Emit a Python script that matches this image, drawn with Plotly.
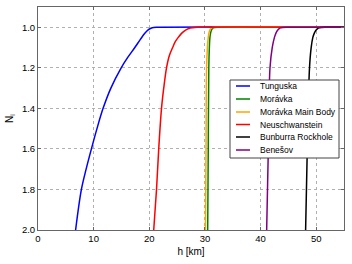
import plotly.graph_objects as go

names = ["Tunguska", "Morávka", "Morávka Main Body", "Neuschwanstein", "Bunburra Rockhole", "Benešov"]
colors = ["#0000ff", "#008000", "#ffa500", "#ff0000", "#000000", "#800080"]

tunguska_h = [6.76, 7.8, 8.65, 9.6, 10.6, 11.7, 13.1, 14.95, 16.1, 17.4, 18.4, 19.2, 19.8, 20.3, 20.8, 21.5, 55]
tunguska_n = [2.0, 1.8, 1.7, 1.6, 1.5, 1.4, 1.3, 1.2, 1.15, 1.1, 1.06, 1.03, 1.013, 1.005, 1.001, 1.0, 1.0]

moravka_h = [30.5, 30.6, 30.7, 30.8, 30.9, 31.05, 31.25, 31.5, 31.8, 32.2, 55]
moravka_n = [2.0, 1.6, 1.2, 1.1, 1.05, 1.025, 1.01, 1.003, 1.001, 1.0, 1.0]

moravka_main_h = [30.1, 30.2, 30.3, 30.45, 30.6, 30.75, 30.95, 31.2, 31.5, 31.8, 55]
moravka_main_n = [2.0, 1.6, 1.2, 1.1, 1.05, 1.025, 1.01, 1.003, 1.001, 1.0, 1.0]

neuschwanstein_h = [20.8, 21.3, 21.7, 22.2, 22.6, 23.1, 23.6, 24.2, 24.7, 25.2, 25.8, 26.4, 27.1, 27.8, 28.6, 55]
neuschwanstein_n = [2.0, 1.8, 1.6, 1.4, 1.3, 1.2, 1.14, 1.1, 1.07, 1.05, 1.03, 1.016, 1.006, 1.002, 1.0, 1.0]

bunburra_h = [48.1, 48.4, 48.8, 49.1, 49.4, 49.65, 49.9, 50.2, 50.5, 51.0, 51.6, 55]
bunburra_n = [2.0, 1.6, 1.2, 1.1, 1.05, 1.03, 1.017, 1.008, 1.003, 1.001, 1.0, 1.0]

benesov_h = [41.1, 41.4, 41.7, 42.1, 42.5, 42.75, 43.0, 43.3, 43.6, 44.0, 44.6, 55]
benesov_n = [2.0, 1.6, 1.2, 1.1, 1.05, 1.03, 1.017, 1.008, 1.003, 1.001, 1.0, 1.0]

series_h = [tunguska_h, moravka_h, moravka_main_h, neuschwanstein_h, bunburra_h, benesov_h]
series_n = [tunguska_n, moravka_n, moravka_main_n, neuschwanstein_n, bunburra_n, benesov_n]

x_ticks = [0, 10, 20, 30, 40, 50]
y_ticks = [1.0, 1.2, 1.4, 1.6, 1.8, 2.0]

fig = go.Figure()
for nm, c, h, n in zip(names, colors, series_h, series_n):
    fig.add_trace(go.Scatter(x=h, y=n, mode="lines", name=nm, showlegend=False,
                             line=dict(color=c, width=1.5, shape="spline", smoothing=1.0)))

font = "Liberation Sans, Arial, sans-serif"
axis_common = dict(showline=True, mirror="ticks", linecolor="#666666", linewidth=1,
                   showgrid=True, gridcolor="#b0b0b0", griddash="dot", gridwidth=1,
                   ticks="inside", ticklen=3, tickcolor="#666666", zeroline=False,
                   automargin=False,
                   tickfont=dict(family=font, size=9.5, color="#000000"))

L, R, T, B = 38, 8, 7, 34
W, H = 352, 264
pw, ph = W - L - R, H - T - B

def px(x):
    return (x - L) / pw

def py(y):
    return (H - B - y) / ph

# manual legend (compact spacing like the reference)
shapes = [dict(type="rect", xref="paper", yref="paper",
               x0=px(230), x1=px(339), y0=py(158), y1=py(80),
               fillcolor="white", line=dict(color="#444444", width=1), layer="above")]
annotations = []
entry_y = [86, 99, 112, 124.5, 137, 150]
for nm, c, ey in zip(names, colors, entry_y):
    shapes.append(dict(type="line", xref="paper", yref="paper",
                       x0=px(236), x1=px(250), y0=py(ey), y1=py(ey),
                       line=dict(color=c, width=1.5), layer="above"))
    annotations.append(dict(text=nm, xref="paper", yref="paper", x=px(258), y=py(ey),
                            xanchor="left", yanchor="middle", showarrow=False,
                            font=dict(family=font, size=8.5, color="#000000")))

fig.update_layout(
    width=W, height=H,
    margin=dict(l=L, r=R, t=T, b=B),
    paper_bgcolor="white", plot_bgcolor="white",
    font=dict(family=font, size=9, color="#000000"),
    xaxis=dict(range=[0, 55], tickvals=x_ticks,
               title=dict(text="h [km]", font=dict(family=font, size=10), standoff=4), **axis_common),
    yaxis=dict(range=[2.0, 0.9], tickvals=y_ticks, tickformat=".1f",
               title=dict(text="N<sub>i</sub>", font=dict(family=font, size=10), standoff=6), **axis_common),
    shapes=shapes,
    annotations=annotations,
    showlegend=False,
)

fig.write_html("out.html", config={"displayModeBar": False},
               post_script="document.body.style.margin='0';document.body.style.padding='0';")
